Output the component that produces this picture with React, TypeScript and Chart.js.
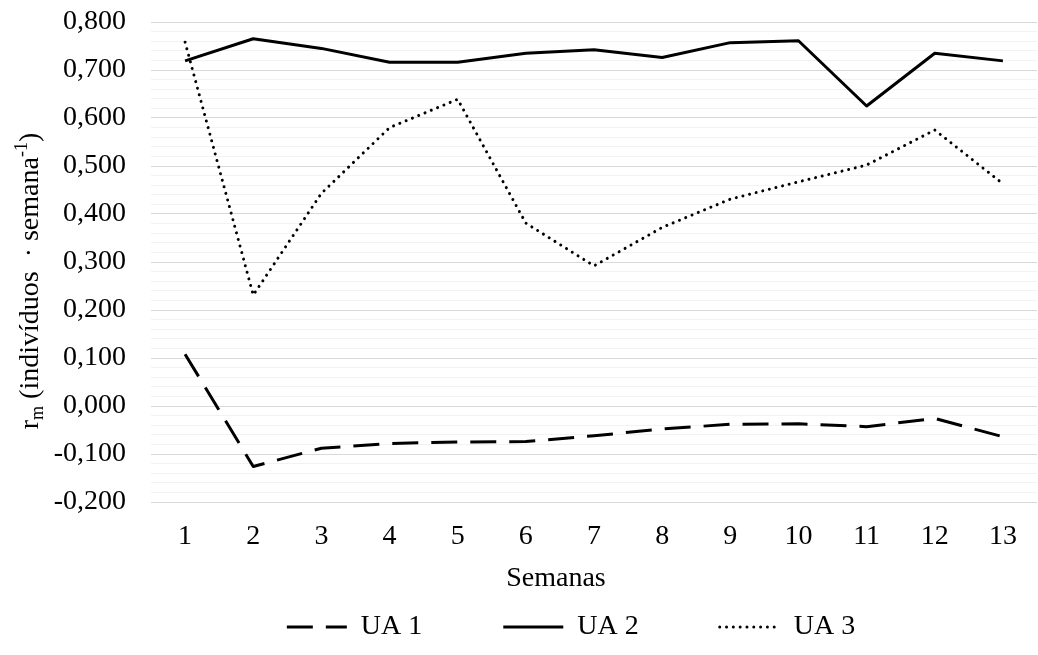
import React, { useEffect, useRef } from "react";
import { Chart, registerables } from "chart.js";

Chart.register(...registerables);

const weeks = ["1", "2", "3", "4", "5", "6", "7", "8", "9", "10", "11", "12", "13"];
const ua1 = [0.108, -0.126, -0.088, -0.078, -0.075, -0.074, -0.062, -0.048, -0.038, -0.037, -0.043, -0.026, -0.064];
const ua2 = [0.719, 0.765, 0.745, 0.716, 0.716, 0.735, 0.742, 0.726, 0.757, 0.761, 0.625, 0.735, 0.719];
const ua3 = [0.758, 0.231, 0.443, 0.580, 0.639, 0.381, 0.292, 0.372, 0.431, 0.467, 0.502, 0.575, 0.463];
const seriesNames = ["UA 1", "UA 2", "UA 3"];
const xTitle = "Semanas";
const yTitleParts = ["r", "m", " (indivíduos  · semana", "-1", ")"];

const FONT = "'Liberation Serif', 'Times New Roman', serif";
const FS = 28;

const titlesPlugin = {
  id: "axisTitles",
  afterLayout(chart: any) {
    const lg = chart.legend;
    if (lg) {
      lg.left = 105;
      lg.top = 532;
    }
  },
  afterDraw(chart: any) {
    const ctx = chart.ctx;
    const area = chart.chartArea;
    const styles = [
      { size: FS, dy: 0 },
      { size: 18, dy: 5 },
      { size: FS, dy: 0 },
      { size: 18, dy: -11 },
      { size: FS, dy: 0 },
    ];
    ctx.save();
    const widths = yTitleParts.map((t, i) => {
      ctx.font = `${styles[i].size}px ${FONT}`;
      return ctx.measureText(t).width;
    });
    const total = widths.reduce((a, b) => a + b, 0);
    const cy = (area.top + area.bottom) / 2 + 19;
    ctx.translate(37.5, cy);
    ctx.rotate(-Math.PI / 2);
    ctx.fillStyle = "#000";
    ctx.textBaseline = "alphabetic";
    ctx.textAlign = "left";
    let x = -total / 2;
    yTitleParts.forEach((t, i) => {
      ctx.font = `${styles[i].size}px ${FONT}`;
      ctx.fillText(t, x, styles[i].dy);
      x += widths[i];
    });
    ctx.restore();
    ctx.save();
    ctx.font = `${FS}px ${FONT}`;
    ctx.fillStyle = "#000";
    ctx.textAlign = "center";
    ctx.textBaseline = "middle";
    ctx.fillText(xTitle, (area.left + area.right) / 2 - 38, area.bottom + 77);
    ctx.restore();
  },
};

function isMajor(v: number) {
  return Math.round(v * 50) % 5 === 0;
}

export default function App() {
  const ref = useRef<HTMLCanvasElement>(null);
  useEffect(() => {
    if (!ref.current) return;
    const chart = new Chart(ref.current, {
      type: "line",
      data: {
        labels: weeks,
        datasets: [
          {
            label: seriesNames[0],
            data: ua1,
            borderColor: "#000",
            backgroundColor: "#000",
            borderWidth: 3,
            borderDash: [26, 13],
            borderCapStyle: "butt",
            borderJoinStyle: "round",
            pointRadius: 0,
            tension: 0,
          },
          {
            label: seriesNames[1],
            data: ua2,
            borderColor: "#000",
            backgroundColor: "#000",
            borderWidth: 3,
            borderDash: [],
            borderCapStyle: "butt",
            borderJoinStyle: "round",
            pointRadius: 0,
            tension: 0,
          },
          {
            label: seriesNames[2],
            data: ua3,
            borderColor: "#000",
            backgroundColor: "#000",
            borderWidth: 3,
            borderDash: [0.01, 6.8],
            borderCapStyle: "round",
            borderJoinStyle: "round",
            pointRadius: 0,
            tension: 0,
          },
        ],
      },
      options: {
        animation: false,
        responsive: false,
        layout: { padding: { left: 0, right: 1, top: 22, bottom: 0 } },
        plugins: {
          legend: {
            position: "bottom",
            maxHeight: 93,
            labels: {
              usePointStyle: true,
              pointStyle: "line",
              pointStyleWidth: 60,
              boxWidth: 60,
              padding: 81,
              color: "#000",
              font: { family: FONT, size: FS },
              generateLabels: (ch: any) => {
                const base = (Chart as any).defaults.plugins.legend.labels.generateLabels(ch);
                return base.map((it: any, i: number) => {
                  const ds = ch.data.datasets[i];
                  return {
                    ...it,
                    pointStyle: "line",
                    lineWidth: 3,
                    strokeStyle: "#000",
                    lineDash: ds.borderDash || [],
                    lineCap: ds.borderCapStyle || "butt",
                  };
                });
              },
            },
          },
          tooltip: { enabled: false },
        },
        scales: {
          x: {
            offset: true,
            grid: { display: false, drawTicks: false },
            border: { display: false },
            ticks: { color: "#000", padding: 18, font: { family: FONT, size: FS }, maxRotation: 0 },
            afterFit: (scale: any) => {
              scale.height = 60;
            },
          },
          y: {
            min: -0.2,
            max: 0.8,
            grid: {
              drawTicks: false,
              color: (c: any) => (isMajor(c.tick.value) ? "#d9d9d9" : "#f2f2f2"),
              lineWidth: 1,
            },
            border: { display: false },
            ticks: {
              stepSize: 0.02,
              autoSkip: false,
              padding: 25,
              color: "#000",
              font: { family: FONT, size: FS },
              callback: (v: any) => {
                const n = Number(v);
                if (!isMajor(n)) return "";
                const r = Math.round(n * 1000) / 1000;
                return (r === 0 ? 0 : r).toFixed(3).replace(".", ",");
              },
            },
            afterFit: (scale: any) => {
              scale.width = 151;
              scale.paddingTop = 0;
              scale.paddingBottom = 0;
            },
          },
        },
      },
      plugins: [titlesPlugin],
    } as any);
    return () => chart.destroy();
  }, []);
  return (
    <div style={{ position: "absolute", left: 0, top: 0, width: 1038, height: 655, background: "#fff" }}>
      <canvas ref={ref} width={1038} height={655} style={{ display: "block" }} />
    </div>
  );
}
